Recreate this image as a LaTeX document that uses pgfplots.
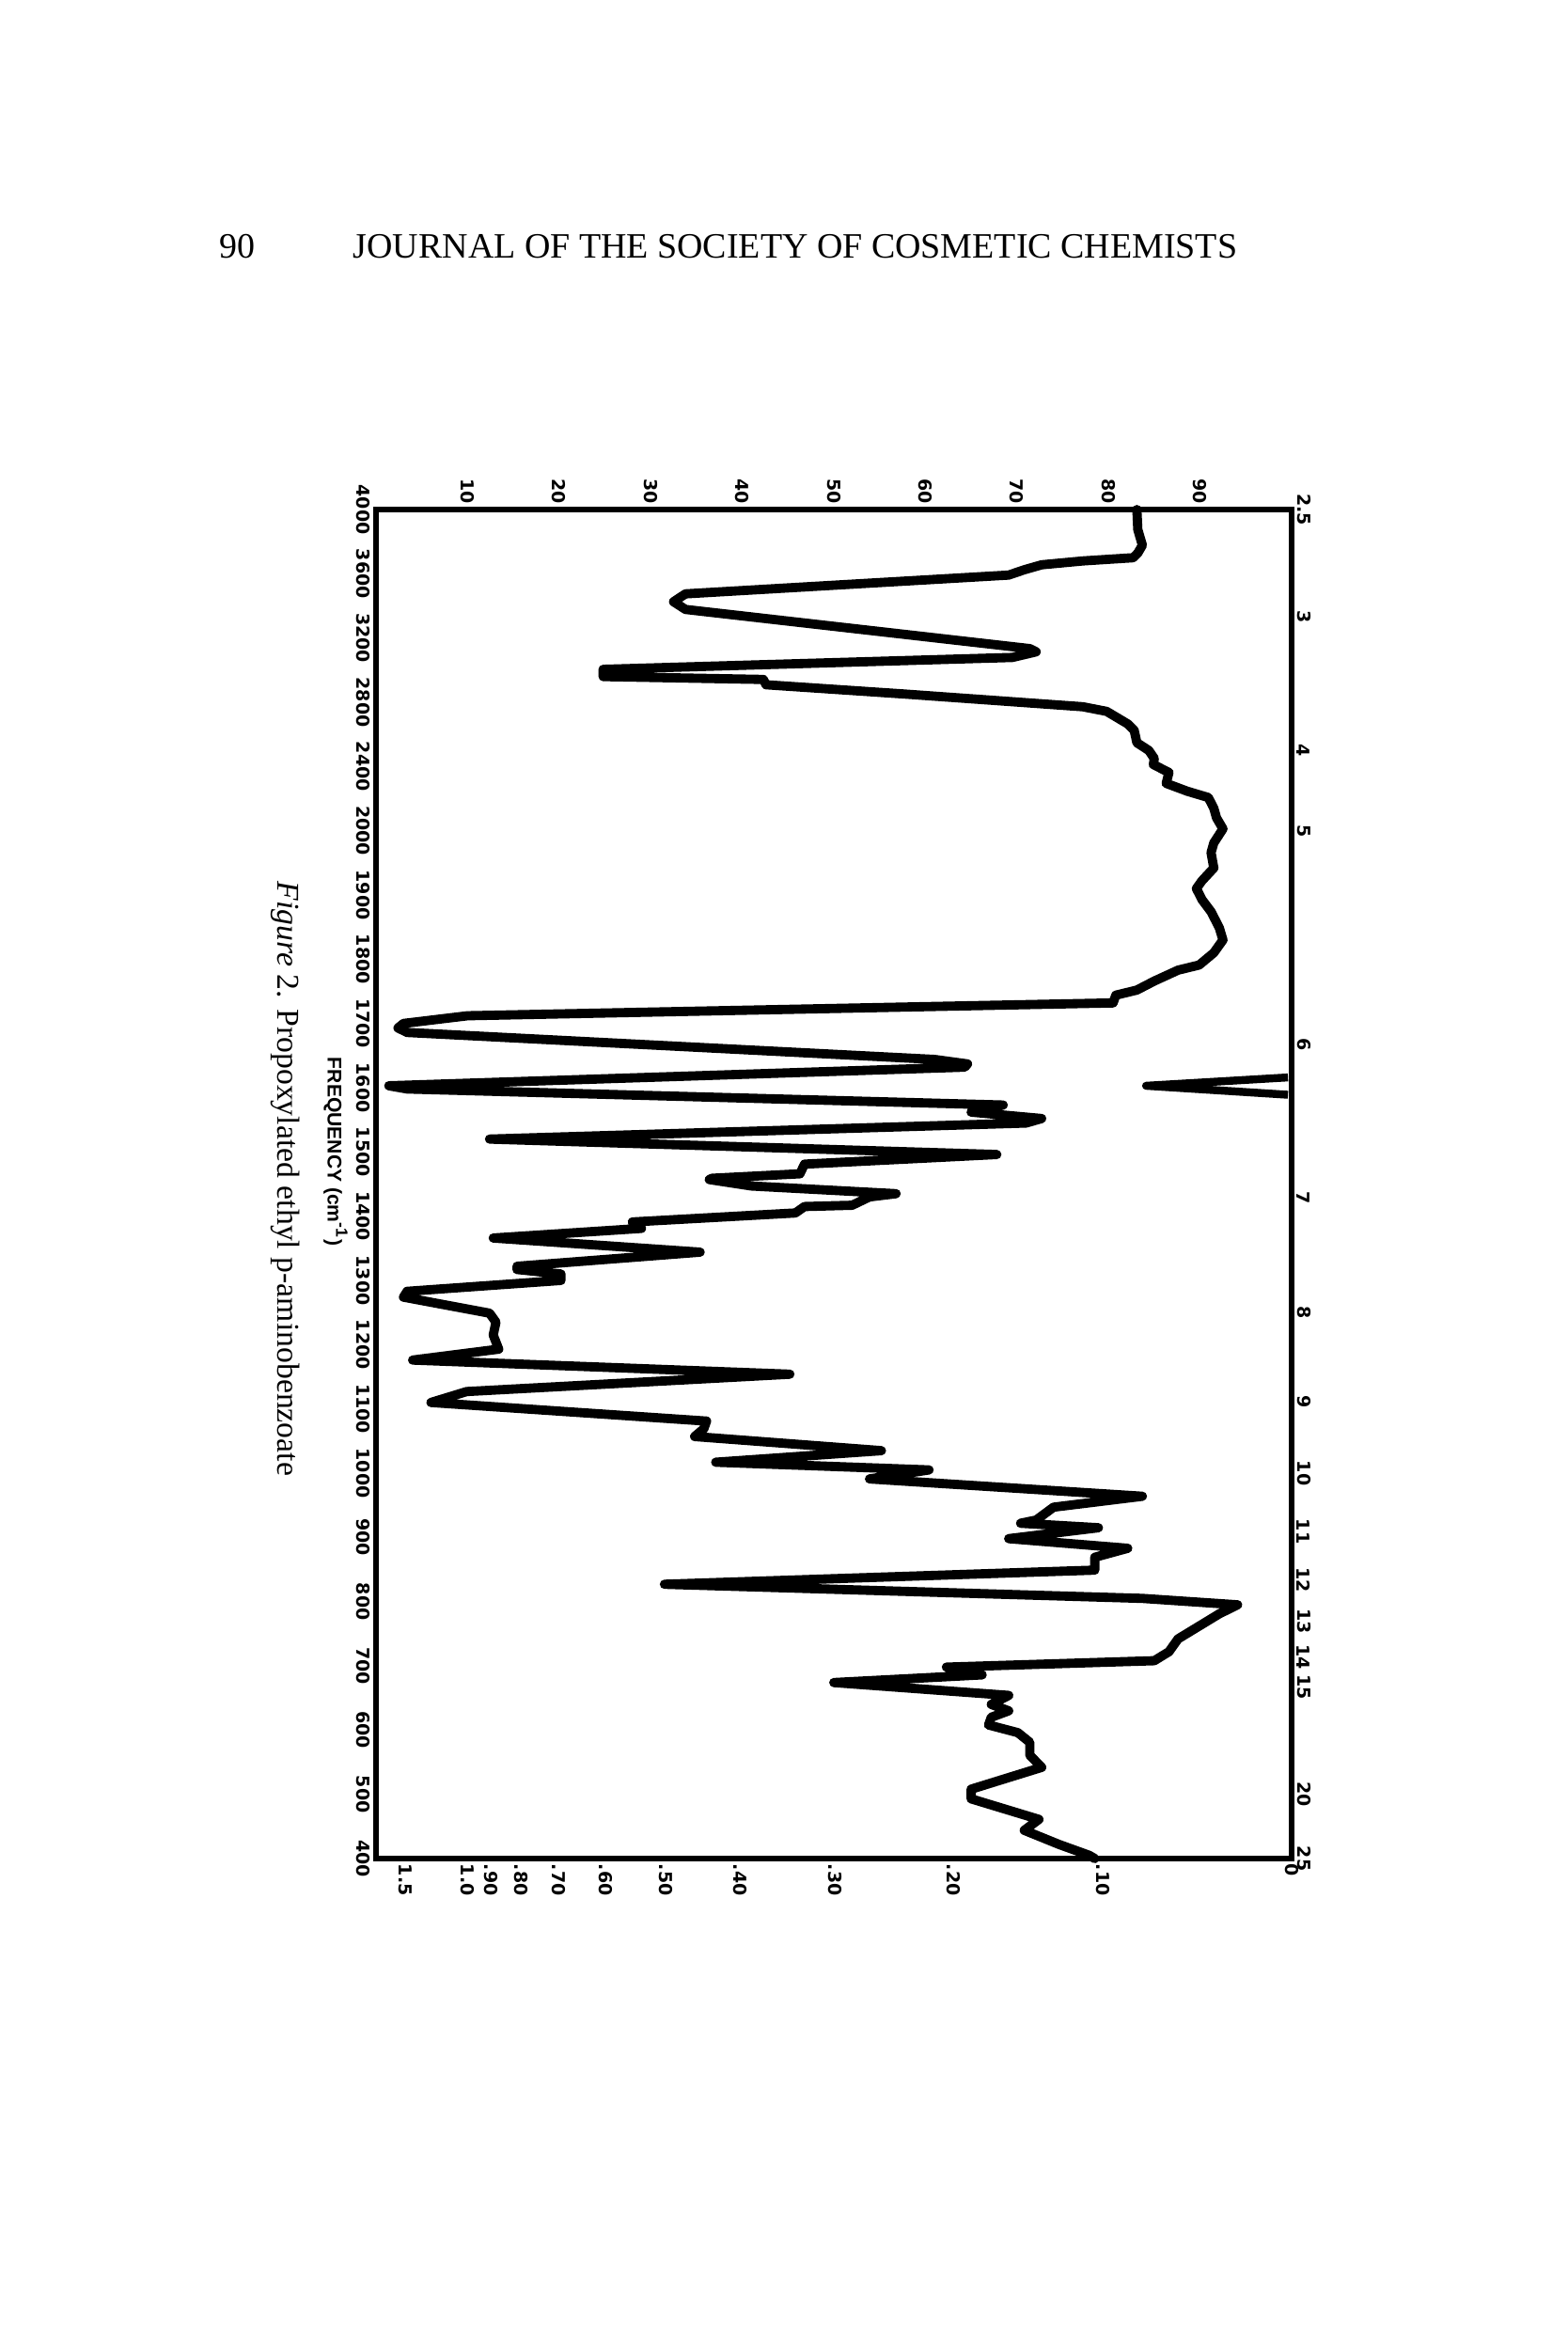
\documentclass[border=0pt]{standalone}
\usepackage{fontspec}
\setmainfont{Liberation Serif}
\setsansfont{Liberation Sans}
\newfontfamily\tickfont{DejaVu Sans}
\usepackage{pgfplots}
\pgfplotsset{compat=1.18}
\pgfplotsset{
  irtrafo/.style={
    y coord trafo/.code={\pgfmathparse{##1<2000 ? (##1-2000)/100-5 : (##1-4000)/400}},
  },
  irbox/.style={
    at={(4.00cm,-5.42cm)}, anchor=north west,
    width=9.74cm, height=14.35cm, scale only axis,
    irtrafo,
    xmin=0, xmax=100, ymin=400, ymax=4000,
    tick style={draw=none},
    ticklabel style={font=\tickfont\bfseries\fontsize{5.4}{6}\selectfont, inner sep=1.5pt},
    clip=false,
  },
}
\begin{document}
\begin{tikzpicture}
\path[use as bounding box] (0,0) rectangle (16.67cm,-24.87cm);
\node[anchor=base west, inner sep=0pt, font=\fontsize{10.8}{13}\selectfont] at (2.33cm,-2.74cm) {90};
\node[anchor=base west, inner sep=0pt, font=\fontsize{10.8}{13}\selectfont] at (3.75cm,-2.74cm) {JOURNAL OF THE SOCIETY OF COSMETIC CHEMISTS};
\begin{axis}[irbox,
  axis line style={line width=1.6pt},
  xtick={10,20,30,40,50,60,70,80,90},
  xticklabels={10,20,30,40,50,60,70,80,90},
  xticklabel pos=upper,
  xticklabel style={rotate=-90, anchor=east},
  ytick={4000,3600,3200,2800,2400,2000,1900,1800,1700,1600,1500,1400,1300,1200,1100,1000,900,800,700,600,500,400},
  yticklabels={4000,3600,3200,2800,2400,2000,1900,1800,1700,1600,1500,1400,1300,1200,1100,1000,900,800,700,600,500,400},
  yticklabel style={rotate=-90, anchor=north},
]
\addplot[black, line width=2.8pt, line join=round, line cap=round] coordinates {
(83.1,4000) (83.2,3875) (83.7,3778) (83.2,3729) (82.7,3700) (77.2,3680)
(72.7,3656) (70.8,3625) (69.1,3592) (33.8,3475) (32.5,3426) (33.8,3378)
(71.4,3134) (72.1,3114) (69.5,3079) (24.8,3005) (24.8,2960) (42.3,2942)
(42.6,2909) (57.8,2851) (77.2,2772) (79.8,2743) (82.1,2665) (82.8,2626)
(83.1,2548) (84.4,2500) (85.0,2450) (84.9,2412) (86.6,2363) (86.3,2295)
(88.6,2246) (90.9,2207) (91.5,2140) (91.8,2080) (92.5,2012) (91.5,1981)
(91.2,1966) (91.5,1942) (90.2,1922) (89.6,1910) (90.2,1893) (91.2,1874)
(92.1,1849) (92.5,1830) (91.5,1810) (89.9,1791) (87.6,1783) (85.0,1766)
(83.1,1752) (80.8,1744) (80.5,1732) (10.0,1712) (3.0,1700) (2.4,1693)
(3.4,1686) (61.0,1644) (64.6,1637) (64.3,1632) (1.4,1603) (3.4,1598)
(68.5,1573) (65.0,1562) (72.7,1552) (71.0,1545) (12.4,1520) (67.8,1496)
(46.8,1481) (46.3,1466) (36.7,1459) (36.4,1457) (41.0,1447) (56.8,1435)
(53.9,1430) (52.0,1417) (46.8,1415) (45.8,1405) (28.0,1391) (29.0,1381)
(12.8,1366) (35.4,1344) (15.4,1322) (15.4,1317) (20.2,1310) (20.2,1300)
(3.4,1283) (3.0,1274) (12.4,1249) (13.1,1235) (12.8,1215) (13.4,1193)
(4.0,1176) (45.2,1154) (9.9,1127) (6.0,1110) (36.1,1081) (35.8,1069)
(34.8,1057) (55.2,1035) (37.1,1017) (60.4,1005) (53.9,991) (83.7,964)
(74.0,947) (72.1,927) (70.4,922) (78.9,915) (69.1,898) (82.1,883)
(78.5,869) (78.5,849) (31.5,827) (83.7,805) (94.1,795) (92.1,781)
(87.6,742) (86.6,722) (85.0,708) (62.3,698) (66.2,686) (50.0,674)
(69.1,654) (67.2,640) (69.1,630) (67.2,620) (66.9,608) (70.1,596)
(71.4,581) (71.4,561) (72.7,542) (65.0,508) (65.0,493) (72.4,461)
(70.8,444) (74.6,422) (77.9,405) (78.5,400)
};
\addplot[black, line width=2.4pt, line join=round] coordinates {
(99.6,1616) (84.1,1603) (99.6,1589)
};
\end{axis}
\begin{axis}[irbox,
  axis line style={draw=none},
  xtick={3.162,10,12.589,15.849,19.953,25.119,31.623,39.811,50.119,63.096,79.433,100},
  xticklabels={1.5,1.0,.90,.80,.70,.60,.50,.40,.30,.20,.10,0},
  xticklabel pos=lower,
  xticklabel style={rotate=-90, anchor=west},
  ytick={4000,3333.33,2500,2000,1666.67,1428.57,1250,1111.11,1000,909.09,833.33,769.23,714.29,666.67,500,400},
  yticklabels={2.5,3,4,5,6,7,8,9,10,11,12,13,14,15,20,25},
  yticklabel pos=right,
  yticklabel style={rotate=-90, anchor=south},
]
\addplot[draw=none] coordinates {(50,2000)};
\end{axis}
\node[rotate=-90, inner sep=0pt, font=\sffamily\bfseries\fontsize{6}{7}\selectfont] at (3.57cm,-12.25cm) {FREQUENCY (cm\textsuperscript{-1})};
\node[rotate=-90, inner sep=0pt, font=\fontsize{9.6}{11}\selectfont] at (3.04cm,-12.54cm) {\textit{Figure} 2. Propoxylated ethyl p-aminobenzoate};
\end{tikzpicture}
\end{document}
